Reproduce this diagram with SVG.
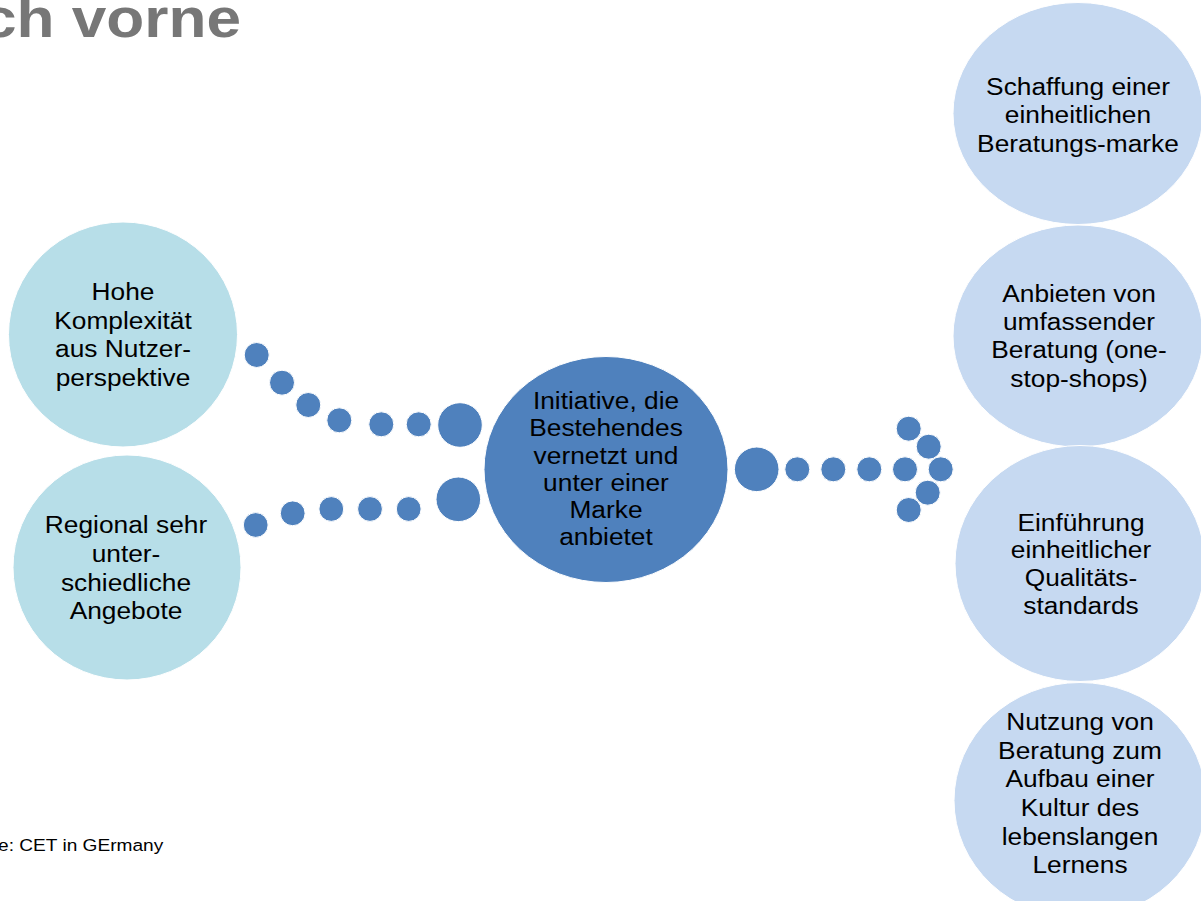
<svg xmlns="http://www.w3.org/2000/svg" width="1201" height="901" viewBox="0 0 1201 901">
<style>
.t{font-family:"Liberation Sans",Arial,sans-serif;font-size:23.5px;fill:#000;text-anchor:middle}
.l{fill:#B7DEE8;stroke:#fff;stroke-width:1}
.m{fill:#4F81BD;stroke:#fff;stroke-width:1}
.r{fill:#C6D9F1;stroke:#fff;stroke-width:1}
.d circle{fill:#4F81BD;stroke:#fff;stroke-width:1}
.title{font-family:"Liberation Sans",Arial,sans-serif;font-size:56px;font-weight:bold;fill:#777777}
.foot{font-family:"Liberation Sans",Arial,sans-serif;font-size:17px;fill:#000}
</style>
<rect width="1201" height="901" fill="#fff"/>
<text class="title" transform="translate(-18,36.5) scale(1.11,1)" x="0" y="0">ch vorne</text>

<g id="left1">
<ellipse class="l" cx="123" cy="334.5" rx="114.5" ry="112.5"/>
<text class="t" transform="translate(123,0) scale(1.12,1)"><tspan x="0" y="300">Hohe</tspan><tspan x="0" y="328.6">Komplexität</tspan><tspan x="0" y="357.2">aus Nutzer-</tspan><tspan x="0" y="385.8">perspektive</tspan></text>
</g>
<g id="left2">
<ellipse class="l" cx="127" cy="567.5" rx="114" ry="112.5"/>
<text class="t" transform="translate(126,0) scale(1.12,1)"><tspan x="0" y="533.3">Regional sehr</tspan><tspan x="0" y="562">unter-</tspan><tspan x="0" y="590.6">schiedliche</tspan><tspan x="0" y="619.3">Angebote</tspan></text>
</g>
<g id="center">
<ellipse class="m" cx="606" cy="469.5" rx="122" ry="113"/>
<text class="t" transform="translate(606,0) scale(1.12,1)"><tspan x="0" y="409.3">Initiative, die</tspan><tspan x="0" y="436.5">Bestehendes</tspan><tspan x="0" y="463.6">vernetzt und</tspan><tspan x="0" y="490.8">unter einer</tspan><tspan x="0" y="517.9">Marke</tspan><tspan x="0" y="545">anbietet</tspan></text>
</g>
<g id="right1">
<ellipse class="r" cx="1078" cy="113.5" rx="125" ry="111"/>
<text class="t" transform="translate(1078,0) scale(1.12,1)"><tspan x="0" y="95">Schaffung einer</tspan><tspan x="0" y="123.3">einheitlichen</tspan><tspan x="0" y="151.7">Beratungs-marke</tspan></text>
</g>
<g id="right2">
<ellipse class="r" cx="1078" cy="336" rx="125" ry="111"/>
<text class="t" transform="translate(1079,0) scale(1.12,1)"><tspan x="0" y="301.7">Anbieten von</tspan><tspan x="0" y="330">umfassender</tspan><tspan x="0" y="358.3">Beratung (one-</tspan><tspan x="0" y="386.7">stop-shops)</tspan></text>
</g>
<g id="right3">
<ellipse class="r" cx="1080" cy="563.5" rx="125" ry="118"/>
<text class="t" transform="translate(1081,0) scale(1.12,1)"><tspan x="0" y="530.7">Einführung</tspan><tspan x="0" y="558.5">einheitlicher</tspan><tspan x="0" y="586.2">Qualitäts-</tspan><tspan x="0" y="614">standards</tspan></text>
</g>
<g id="right4">
<ellipse class="r" cx="1080" cy="800.5" rx="126" ry="118"/>
<text class="t" transform="translate(1080,0) scale(1.12,1)"><tspan x="0" y="730">Nutzung von</tspan><tspan x="0" y="758.7">Beratung zum</tspan><tspan x="0" y="787.3">Aufbau einer</tspan><tspan x="0" y="816">Kultur des</tspan><tspan x="0" y="844.7">lebenslangen</tspan><tspan x="0" y="873.3">Lernens</tspan></text>
</g>

<g id="connectors" class="d">
<circle cx="256.7" cy="355" r="12.5"/>
<circle cx="282" cy="382.7" r="12.5"/>
<circle cx="308.3" cy="405" r="12.5"/>
<circle cx="339.3" cy="420.3" r="12.5"/>
<circle cx="381.3" cy="424.3" r="12.5"/>
<circle cx="418.7" cy="424.3" r="12.5"/>
<circle cx="460" cy="425" r="22.3"/>
<circle cx="255.7" cy="525" r="12.4"/>
<circle cx="292.7" cy="513.3" r="12.4"/>
<circle cx="331.3" cy="509" r="12.4"/>
<circle cx="370" cy="509" r="12.4"/>
<circle cx="408.7" cy="509" r="12.4"/>
<circle cx="458.3" cy="499.3" r="22.3"/>
<circle cx="756.7" cy="469.3" r="22.3"/>
<circle cx="797.3" cy="469.3" r="12.5"/>
<circle cx="833.3" cy="469.3" r="12.5"/>
<circle cx="869.3" cy="469.3" r="12.5"/>
<circle cx="905" cy="469.3" r="12.5"/>
<circle cx="908.7" cy="428.7" r="12.5"/>
<circle cx="928.7" cy="446.7" r="12.5"/>
<circle cx="927.7" cy="492.7" r="12.5"/>
<circle cx="908.7" cy="510" r="12.5"/>
<circle cx="940.7" cy="469.3" r="12.5"/>
</g>

<text class="foot" transform="translate(-2,850.5) scale(1.125,1)" x="0" y="0">e: CET in GErmany</text>
</svg>
